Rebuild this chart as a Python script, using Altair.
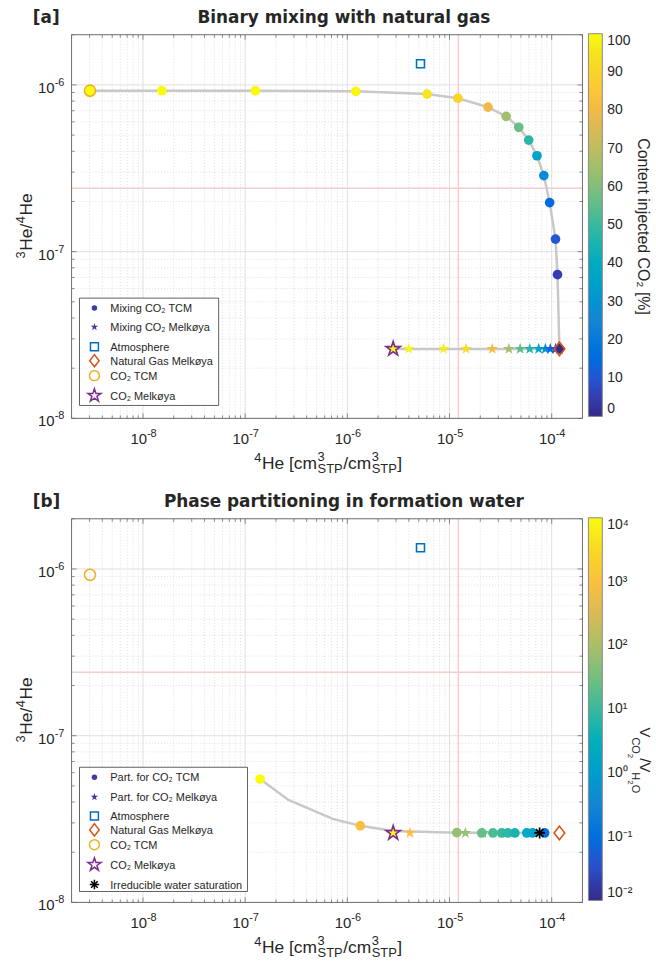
import altair as alt
import pandas as pd

# ---------------------------------------------------------------- styling
FONT = "Liberation Sans"
BOLD_FONT = "DejaVu Sans"
INK = "#262626"
FRAME = "#6e6e6e"
GRID_MAJOR = "#e0e0e0"
GRID_MINOR = "#d6d6d6"
REF_RED = "#f7cccc"
MIX_GREY = "#c8c8c8"
ATM_BLUE = "#0072bd"
NG_ORANGE = "#d95319"
TCM_GOLD = "#edb120"
MELK_PURPLE = "#7e2f8e"
KEY_NAVY = "#3d3b9e"

# parula colour map, sampled
PARULA = ["#352a87", "#3243ba", "#0363e1", "#0d75dc", "#1485d4", "#0998d1",
          "#06a7c6", "#15b1b4", "#38b99e", "#65be86", "#92bf73", "#b7bd64",
          "#d9ba56", "#f8ba44", "#fcce2e", "#f5de21", "#f9fb0e"]

STAR = ("M0,-1L0.2245,-0.309L0.951,-0.309L0.363,0.118L0.588,0.809L0,0.382"
        "L-0.588,0.809L-0.363,0.118L-0.951,-0.309L-0.2245,-0.309Z")
DIAMOND = "M0,-1L0.78,0L0,1L-0.78,0Z"
ASTERISK = "M-1,0L1,0M0,-1L0,1M-0.7,-0.7L0.7,0.7M-0.7,0.7L0.7,-0.7"

W, H = 514, 386
X_DOMAIN = [2e-9, 2e-4]
Y_DOMAIN = [1e-8, 2e-6]

# ---------------------------------------------------------------- axes ticks
X_DECADES = [1e-8, 1e-7, 1e-6, 1e-5, 1e-4]
X_DECADE_EXP = ["-8", "-7", "-6", "-5", "-4"]
Y_DECADES = [1e-8, 1e-7, 1e-6]
Y_DECADE_EXP = ["-8", "-7", "-6"]
X_MINOR = [m * 10.0 ** e for e in range(-9, -3) for m in range(2, 10)
           if X_DOMAIN[0] <= m * 10.0 ** e <= X_DOMAIN[1] * 1.0001]
Y_MINOR = [m * 10.0 ** e for e in range(-8, -5) for m in range(2, 10)
           if Y_DOMAIN[0] <= m * 10.0 ** e <= Y_DOMAIN[1] * 1.0001]

# reference lines
REF_HE4 = 1.22e-5
REF_RATIO = 2.4e-7

# end members: (4He, 3He/4He)
ATMOSPHERE = (5.2e-6, 1.34e-6)
NATURAL_GAS = (1.19e-4, 2.61e-8)
CO2_TCM = (3.03e-9, 9.23e-7)
CO2_MELKOYA = (2.81e-6, 2.61e-8)

# ---------------------------------------------------------------- panel [a]
mix_tcm_he4 = [3.03e-9, 1.53e-8, 1.26e-7, 1.21e-6, 6.03e-6, 1.21e-5, 2.38e-5,
               3.58e-5, 4.76e-5, 5.96e-5, 7.18e-5, 8.38e-5, 9.55e-5, 1.09e-4,
               1.14e-4, 1.19e-4]
mix_tcm_ratio = [9.23e-7, 9.23e-7, 9.23e-7, 9.15e-7, 8.81e-7, 8.32e-7, 7.36e-7,
                 6.48e-7, 5.57e-7, 4.67e-7, 3.76e-7, 2.86e-7, 1.97e-7, 1.19e-7,
                 7.28e-8, 2.61e-8]
mix_tcm_pct = [100, 99.99, 99.9, 99, 95, 90, 80, 65, 57, 48, 37, 27, 15, 10, 5, 0]

mix_melk_he4 = [2.81e-6, 3.99e-6, 8.75e-6, 1.45e-5, 2.62e-5, 3.81e-5, 4.91e-5,
                6.10e-5, 7.46e-5, 8.67e-5, 9.69e-5, 1.09e-4, 1.19e-4]
mix_melk_ratio = [2.61e-8, 2.61e-8, 2.61e-8, 2.61e-8, 2.61e-8, 2.61e-8, 2.61e-8,
                  2.61e-8, 2.61e-8, 2.61e-8, 2.61e-8, 2.61e-8, 2.61e-8]
mix_melk_pct = [100, 99, 97, 94, 82, 65, 55, 47, 37, 27, 15, 8, 0]

# ---------------------------------------------------------------- panel [b]
part_tcm_he4 = [1.40e-7, 1.34e-6, 1.18e-5, 2.07e-5, 2.66e-5, 3.24e-5, 3.73e-5,
                4.36e-5, 5.70e-5, 6.48e-5, 8.53e-5]
part_tcm_ratio = [5.5e-8, 2.88e-8, 2.62e-8, 2.61e-8, 2.61e-8, 2.61e-8, 2.61e-8,
                  2.61e-8, 2.61e-8, 2.61e-8, 2.61e-8]
part_tcm_vr = [1e4, 1e3, 60, 25, 15, 10, 8, 5, 2, 1.5, 0.1]

part_melk_he4 = [2.81e-6, 4.10e-6, 1.43e-5, 2.12e-5]
part_melk_ratio = [2.61e-8, 2.61e-8, 2.61e-8, 2.61e-8]
part_melk_vr = [1e4, 1e3, 60, 25]

# path of the partitioning curve
part_line_he4 = [1.40e-7, 2.65e-7, 7.22e-7, 1.34e-6, 2.81e-6, 1.18e-5, 8.53e-5]
part_line_ratio = [5.5e-8, 4.12e-8, 3.17e-8, 2.88e-8, 2.68e-8, 2.62e-8, 2.61e-8]

IRREDUCIBLE = (7.62e-5, 2.61e-8)

# ---------------------------------------------------------------- helpers
ONE = pd.DataFrame({"k": [0]})
XS = alt.Scale(type="log", domain=X_DOMAIN, nice=False)
YS = alt.Scale(type="log", domain=Y_DOMAIN, nice=False)

# approximate Arial advance widths (em) for composing sub/superscripts
AW = {"H": 0.722, "e": 0.556, " ": 0.278, "[": 0.278, "]": 0.278, "c": 0.5,
      "m": 0.833, "S": 0.667, "T": 0.611, "P": 0.667, "/": 0.278, "V": 0.667,
      "C": 0.722, "O": 0.778, "%": 0.889}


def tw(s, size):
    return sum(AW.get(ch, 0.556) for ch in s) * size


def xe(field="v"):
    return alt.X(f"{field}:Q", scale=XS, axis=None)


def ye(field="v"):
    return alt.Y(f"{field}:Q", scale=YS, axis=None)


def text_at(s, x, y, size, font=FONT, weight="normal", angle=0,
            align="left", baseline="alphabetic", color=INK):
    return alt.Chart(ONE).mark_text(
        text=s, font=font, fontSize=size, fontWeight=weight, angle=angle,
        align=align, baseline=baseline, color=color
    ).encode(x=alt.value(x), y=alt.value(y))


def marker_at(x, y, shape, size, filled, color, stroke_width=1.5):
    kw = dict(shape=shape, size=size, opacity=1, strokeWidth=stroke_width)
    if filled:
        kw.update(filled=True, color=color)
    else:
        kw.update(filled=False, color=color)
    return alt.Chart(ONE).mark_point(**kw).encode(x=alt.value(x), y=alt.value(y))


def grid_layers():
    xmaj = pd.DataFrame({"v": X_DECADES, "e": X_DECADE_EXP})
    xmin = pd.DataFrame({"v": X_MINOR})
    ymaj = pd.DataFrame({"v": Y_DECADES, "e": Y_DECADE_EXP})
    ymin = pd.DataFrame({"v": Y_MINOR})
    L = [
        alt.Chart(xmin).mark_rule(color=GRID_MINOR, strokeWidth=0.8, strokeDash=[1, 2])
        .encode(x=xe(), y=alt.value(0), y2=alt.value(H)),
        alt.Chart(ymin).mark_rule(color=GRID_MINOR, strokeWidth=0.8, strokeDash=[1, 2])
        .encode(y=ye(), x=alt.value(0), x2=alt.value(W)),
        alt.Chart(xmaj).mark_rule(color=GRID_MAJOR, strokeWidth=1)
        .encode(x=xe(), y=alt.value(0), y2=alt.value(H)),
        alt.Chart(ymaj).mark_rule(color=GRID_MAJOR, strokeWidth=1)
        .encode(y=ye(), x=alt.value(0), x2=alt.value(W)),
        alt.Chart(pd.DataFrame({"v": [REF_HE4]})).mark_rule(color=REF_RED, strokeWidth=1.5)
        .encode(x=xe(), y=alt.value(0), y2=alt.value(H)),
        alt.Chart(pd.DataFrame({"v": [REF_RATIO]})).mark_rule(color=REF_RED, strokeWidth=1.5)
        .encode(y=ye(), x=alt.value(0), x2=alt.value(W)),
    ]
    return L, (xmaj, xmin, ymaj, ymin)


def box_layers(ticks):
    xmaj, xmin, ymaj, ymin = ticks
    L = []
    for df, ln in ((xmaj, 5), (xmin, 3)):
        L.append(alt.Chart(df).mark_rule(color=FRAME, strokeWidth=0.8)
                 .encode(x=xe(), y=alt.value(H), y2=alt.value(H - ln)))
        L.append(alt.Chart(df).mark_rule(color=FRAME, strokeWidth=0.8)
                 .encode(x=xe(), y=alt.value(0), y2=alt.value(ln)))
    for df, ln in ((ymaj, 5), (ymin, 3)):
        L.append(alt.Chart(df).mark_rule(color=FRAME, strokeWidth=0.8)
                 .encode(y=ye(), x=alt.value(0), x2=alt.value(ln)))
        L.append(alt.Chart(df).mark_rule(color=FRAME, strokeWidth=0.8)
                 .encode(y=ye(), x=alt.value(W), x2=alt.value(W - ln)))
    L.append(alt.Chart(ONE).mark_rect(fillOpacity=0, stroke=FRAME, strokeWidth=1)
             .encode(x=alt.value(0), x2=alt.value(W), y=alt.value(0), y2=alt.value(H)))
    # tick labels: base "10" plus a raised exponent
    L.append(alt.Chart(xmaj).mark_text(text="10", align="right", baseline="alphabetic", dx=4,
                                       font=FONT, fontSize=15, color=INK)
             .encode(x=xe(), y=alt.value(H + 26)))
    L.append(alt.Chart(xmaj).mark_text(align="left", baseline="alphabetic", dx=4,
                                       font=FONT, fontSize=11, color=INK)
             .encode(x=xe(), y=alt.value(H + 19), text="e:N"))
    L.append(alt.Chart(ymaj).mark_text(text="10", align="right", baseline="alphabetic", dy=8,
                                       font=FONT, fontSize=15, color=INK)
             .encode(y=ye(), x=alt.value(-17)))
    L.append(alt.Chart(ymaj).mark_text(align="left", baseline="alphabetic", dy=1,
                                       font=FONT, fontSize=11, color=INK)
             .encode(y=ye(), x=alt.value(-17), text="e:N"))
    return L


def axis_titles():
    L = []
    # x title: 4He [cm3_STP / cm3_STP]
    big, small = 17.5, 13
    yb = H + 51
    total = tw("4", small) + tw("He [cm", big) + 2 * tw("STP", small) + tw("/cm", big) + tw("]", big)
    x = W / 2 - total / 2
    L.append(text_at("4", x, yb - 7, small)); x += tw("4", small) + 0.5
    L.append(text_at("He [cm", x, yb, big)); x += tw("He [cm", big) + 0.5
    for follow in ("/cm", "]"):
        L.append(text_at("3", x, yb - 8, small))
        L.append(text_at("STP", x, yb + 4, small)); x += tw("STP", small) + 0.5
        L.append(text_at(follow, x, yb, big)); x += tw(follow, big) + 0.5
    # y title: 3He/4He, reading upwards
    xb = -40
    y = H / 2 + (2 * tw("4", small) + tw("He/", big) + tw("He", big)) / 2
    for s, sz, sup in (("3", small, True), ("He/", big, False), ("4", small, True), ("He", big, False)):
        L.append(text_at(s, xb - (7 if sup else 0), y, sz, angle=270))
        y -= tw(s, sz) + 0.5
    return L


def legend_layers(top, bottom, right, rows):
    L = [alt.Chart(ONE).mark_rect(fill="white", stroke="#3a3a3a", strokeWidth=0.8)
         .encode(x=alt.value(8), x2=alt.value(right), y=alt.value(top), y2=alt.value(bottom))]
    for dy, shape, size, filled, color, label in rows:
        L.append(marker_at(23, top + dy, shape, size, filled, color))
        L.append(text_at(label, 39, top + dy + 4, 11))
    return L


def end_member_layers(members):
    L = []
    for (hx, hr), shape, size, col, fill, sw in members:
        kw = dict(shape=shape, size=size, opacity=1, strokeWidth=sw)
        if fill:
            kw.update(filled=True, fill=fill, stroke=col)
        else:
            kw.update(filled=False, color=col)
        L.append(alt.Chart(pd.DataFrame({"he4": [hx], "r": [hr]})).mark_point(**kw)
                 .encode(x=xe("he4"), y=ye("r")))
    return L


def colorbar_legend(**extra):
    return alt.Legend(
        orient="none", legendX=520, legendY=-1, direction="vertical",
        gradientLength=385, gradientThickness=14, title=None,
        labelFont=FONT, labelFontSize=14, labelColor=INK, labelOffset=5,
        gradientStrokeColor="#8a8a8a", gradientStrokeWidth=1, padding=0, **extra,
    )


# ---------------------------------------------------------------- panel [a]
def panel_a():
    L, ticks = grid_layers()
    tcm = pd.DataFrame({"he4": mix_tcm_he4, "r": mix_tcm_ratio, "pct": mix_tcm_pct})
    melk = pd.DataFrame({"he4": mix_melk_he4, "r": mix_melk_ratio, "pct": mix_melk_pct})

    L.append(alt.Chart(tcm).mark_line(color=MIX_GREY, strokeWidth=2.5)
             .encode(x=xe("he4"), y=ye("r")))
    L.append(alt.Chart(melk).mark_line(color=MIX_GREY, strokeWidth=2.5)
             .encode(x=xe("he4"), y=ye("r")))

    color = alt.Color("pct:Q", scale=alt.Scale(domain=[0, 100], range=PARULA),
                      legend=colorbar_legend(values=[0, 10, 20, 30, 40, 50, 60, 70, 80, 90, 100]))
    L.append(alt.Chart(tcm).mark_point(shape="circle", filled=True, size=95, opacity=1)
             .encode(x=xe("he4"), y=ye("r"), color=color))
    L.append(alt.Chart(melk).mark_point(shape=STAR, filled=True, size=150, opacity=1)
             .encode(x=xe("he4"), y=ye("r"), color=color))

    L += end_member_layers([
        (ATMOSPHERE, "square", 64, ATM_BLUE, "white", 1.6),
        (NATURAL_GAS, DIAMOND, 190, NG_ORANGE, None, 1.6),
        (CO2_TCM, "circle", 125, TCM_GOLD, None, 1.6),
        (CO2_MELKOYA, STAR, 230, MELK_PURPLE, None, 1.6),
    ])
    L += box_layers(ticks)
    L += legend_layers(265, 373, 148, [
        (10, "circle", 30, True, KEY_NAVY, "Mixing CO₂ TCM"),
        (29, STAR, 64, True, KEY_NAVY, "Mixing CO₂ Melkøya"),
        (49, "square", 64, False, ATM_BLUE, "Atmosphere"),
        (63, DIAMOND, 150, False, NG_ORANGE, "Natural Gas Melkøya"),
        (78, "circle", 100, False, TCM_GOLD, "CO₂ TCM"),
        (98, STAR, 190, False, MELK_PURPLE, "CO₂ Melkøya"),
    ])
    L += axis_titles()
    L.append(text_at("[a]", -39, -12, 17, font=BOLD_FONT, weight="bold"))
    L.append(text_at("Binary mixing with natural gas", 274, -12, 17, font=BOLD_FONT,
                     weight="bold", align="center"))
    L.append(text_at("Content injected CO₂ [%]", 570, H / 2, 16, angle=90, align="center"))
    return alt.layer(*L).properties(width=W, height=H)


# ---------------------------------------------------------------- panel [b]
def panel_b():
    L, ticks = grid_layers()
    path = pd.DataFrame({"he4": part_line_he4, "r": part_line_ratio})
    L.append(alt.Chart(path).mark_line(color=MIX_GREY, strokeWidth=2.5)
             .encode(x=xe("he4"), y=ye("r")))

    tcm = pd.DataFrame({"he4": part_tcm_he4, "r": part_tcm_ratio, "vr": part_tcm_vr})
    melk = pd.DataFrame({"he4": part_melk_he4, "r": part_melk_ratio, "vr": part_melk_vr})

    exp_label = ("datum.value < -1.5 ? '10⁻²' : datum.value < -0.5 ? '10⁻¹' : "
                 "datum.value < 0.5 ? '10⁰' : datum.value < 1.5 ? '10¹' : "
                 "datum.value < 2.5 ? '10²' : datum.value < 3.5 ? '10³' : '10⁴'")
    color = alt.Color("lv:Q", scale=alt.Scale(domain=[-2, 4], range=PARULA),
                      legend=colorbar_legend(values=[-2, -1, 0, 1, 2, 3, 4], labelExpr=exp_label))
    L.append(alt.Chart(melk).transform_calculate(lv="log(datum.vr) / LN10")
             .mark_point(shape=STAR, filled=True, size=150, opacity=1)
             .encode(x=xe("he4"), y=ye("r"), color=color))
    L.append(alt.Chart(tcm).transform_calculate(lv="log(datum.vr) / LN10")
             .mark_point(shape="circle", filled=True, size=95, opacity=1)
             .encode(x=xe("he4"), y=ye("r"), color=color))

    L += end_member_layers([
        (ATMOSPHERE, "square", 64, ATM_BLUE, "white", 1.6),
        (NATURAL_GAS, DIAMOND, 190, NG_ORANGE, None, 1.6),
        (CO2_TCM, "circle", 125, TCM_GOLD, None, 1.6),
        (CO2_MELKOYA, STAR, 230, MELK_PURPLE, None, 1.6),
        (IRREDUCIBLE, ASTERISK, 120, "#000000", None, 1.8),
    ])
    L += box_layers(ticks)
    L += legend_layers(250, 375, 177, [
        (10, "circle", 30, True, KEY_NAVY, "Part. for CO₂ TCM"),
        (30, STAR, 64, True, KEY_NAVY, "Part. for CO₂ Melkøya"),
        (49, "square", 64, False, ATM_BLUE, "Atmosphere"),
        (63, DIAMOND, 150, False, NG_ORANGE, "Natural Gas Melkøya"),
        (78, "circle", 100, False, TCM_GOLD, "CO₂ TCM"),
        (98, STAR, 190, False, MELK_PURPLE, "CO₂ Melkøya"),
        (118, ASTERISK, 90, False, "#000000", "Irreducible water saturation"),
    ])
    L += axis_titles()
    L.append(text_at("[b]", -39, -12, 17, font=BOLD_FONT, weight="bold"))
    L.append(text_at("Phase partitioning in formation water", 274, -12, 17, font=BOLD_FONT,
                     weight="bold", align="center"))
    # colour-bar title V_CO2 / V_H2O, reading downwards
    y = 210
    for s, sz, shift in (("V", 15, 0), ("CO", 11, 8), ("2", 8, 12), ("/V", 15, 0),
                         ("H", 11, 8), ("2", 8, 12), ("O", 11, 8)):
        L.append(text_at(s, 572 - shift, y, sz, angle=90))
        y += tw(s, sz)
    return alt.layer(*L).properties(width=W, height=H)


chart = (
    alt.vconcat(panel_a(), panel_b(), spacing=17)
    .resolve_scale(color="independent")
    .resolve_legend(color="independent")
    .properties(padding={"left": 14, "top": 6, "right": 4, "bottom": 0}, background="white")
    .configure_view(strokeWidth=0)
)

chart.save("out.html", embed_options={"renderer": "svg", "actions": False})
